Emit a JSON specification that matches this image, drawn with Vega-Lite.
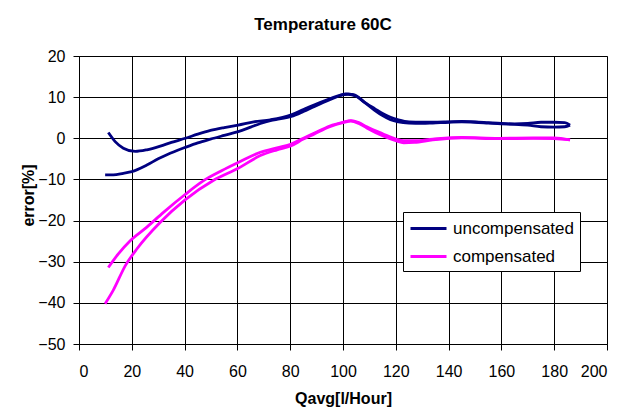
{
  "$schema": "https://vega.github.io/schema/vega-lite/v6.json",
  "width": 528,
  "height": 288,
  "autosize": {"type": "none"},
  "padding": {"left": 79, "top": 56, "right": 14, "bottom": 64},
  "background": "white",
  "title": {
    "text": "Temperature 60C",
    "font": "Liberation Sans",
    "fontSize": 17,
    "fontWeight": "bold",
    "color": "black",
    "anchor": "middle",
    "frame": "group",
    "baseline": "alphabetic",
    "offset": 1,
    "dx": -20
  },
  "data": {
    "values": [
      {"q": 11.1, "err": 1.4, "series": "uncompensated", "branch": "ua"},
      {"q": 13.7, "err": -0.8, "series": "uncompensated", "branch": "ua"},
      {"q": 16.8, "err": -2.4, "series": "uncompensated", "branch": "ua"},
      {"q": 21.3, "err": -3.2, "series": "uncompensated", "branch": "ua"},
      {"q": 25.7, "err": -2.8, "series": "uncompensated", "branch": "ua"},
      {"q": 30.8, "err": -1.9, "series": "uncompensated", "branch": "ua"},
      {"q": 35, "err": -1.0, "series": "uncompensated", "branch": "ua"},
      {"q": 40.3, "err": 0, "series": "uncompensated", "branch": "ua"},
      {"q": 45, "err": 1.0, "series": "uncompensated", "branch": "ua"},
      {"q": 49.8, "err": 1.9, "series": "uncompensated", "branch": "ua"},
      {"q": 55, "err": 2.6, "series": "uncompensated", "branch": "ua"},
      {"q": 60.3, "err": 3.2, "series": "uncompensated", "branch": "ua"},
      {"q": 66.2, "err": 4.0, "series": "uncompensated", "branch": "ua"},
      {"q": 72.5, "err": 4.5, "series": "uncompensated", "branch": "ua"},
      {"q": 80.4, "err": 5.7, "series": "uncompensated", "branch": "ua"},
      {"q": 85, "err": 7.0, "series": "uncompensated", "branch": "ua"},
      {"q": 89, "err": 8.1, "series": "uncompensated", "branch": "ua"},
      {"q": 95, "err": 9.6, "series": "uncompensated", "branch": "ua"},
      {"q": 99, "err": 10.5, "series": "uncompensated", "branch": "ua"},
      {"q": 102, "err": 10.7, "series": "uncompensated", "branch": "ua"},
      {"q": 105, "err": 10.2, "series": "uncompensated", "branch": "ua"},
      {"q": 108.8, "err": 8.5, "series": "uncompensated", "branch": "ua"},
      {"q": 112, "err": 7.2, "series": "uncompensated", "branch": "ua"},
      {"q": 115, "err": 6.0, "series": "uncompensated", "branch": "ua"},
      {"q": 118, "err": 5.1, "series": "uncompensated", "branch": "ua"},
      {"q": 121, "err": 4.5, "series": "uncompensated", "branch": "ua"},
      {"q": 125, "err": 4.0, "series": "uncompensated", "branch": "ua"},
      {"q": 130, "err": 3.9, "series": "uncompensated", "branch": "ua"},
      {"q": 134, "err": 3.9, "series": "uncompensated", "branch": "ua"},
      {"q": 140, "err": 4.0, "series": "uncompensated", "branch": "ua"},
      {"q": 145, "err": 4.1, "series": "uncompensated", "branch": "ua"},
      {"q": 150, "err": 4.0, "series": "uncompensated", "branch": "ua"},
      {"q": 155, "err": 3.8, "series": "uncompensated", "branch": "ua"},
      {"q": 160, "err": 3.6, "series": "uncompensated", "branch": "ua"},
      {"q": 165, "err": 3.5, "series": "uncompensated", "branch": "ua"},
      {"q": 170, "err": 3.6, "series": "uncompensated", "branch": "ua"},
      {"q": 175, "err": 3.9, "series": "uncompensated", "branch": "ua"},
      {"q": 180, "err": 3.9, "series": "uncompensated", "branch": "ua"},
      {"q": 184, "err": 3.8, "series": "uncompensated", "branch": "ua"},
      {"q": 186, "err": 3.2, "series": "uncompensated", "branch": "ua"},
      {"q": 9.9, "err": -8.9, "series": "uncompensated", "branch": "ub"},
      {"q": 13, "err": -8.9, "series": "uncompensated", "branch": "ub"},
      {"q": 16.8, "err": -8.5, "series": "uncompensated", "branch": "ub"},
      {"q": 20, "err": -8.1, "series": "uncompensated", "branch": "ub"},
      {"q": 25.7, "err": -6.5, "series": "uncompensated", "branch": "ub"},
      {"q": 30, "err": -5.0, "series": "uncompensated", "branch": "ub"},
      {"q": 33.3, "err": -4.0, "series": "uncompensated", "branch": "ub"},
      {"q": 40.3, "err": -2.2, "series": "uncompensated", "branch": "ub"},
      {"q": 45, "err": -1.1, "series": "uncompensated", "branch": "ub"},
      {"q": 49.8, "err": -0.2, "series": "uncompensated", "branch": "ub"},
      {"q": 55, "err": 0.7, "series": "uncompensated", "branch": "ub"},
      {"q": 60.3, "err": 1.6, "series": "uncompensated", "branch": "ub"},
      {"q": 65, "err": 2.7, "series": "uncompensated", "branch": "ub"},
      {"q": 68.7, "err": 3.6, "series": "uncompensated", "branch": "ub"},
      {"q": 72.5, "err": 4.3, "series": "uncompensated", "branch": "ub"},
      {"q": 76, "err": 4.7, "series": "uncompensated", "branch": "ub"},
      {"q": 80.4, "err": 5.3, "series": "uncompensated", "branch": "ub"},
      {"q": 85, "err": 6.5, "series": "uncompensated", "branch": "ub"},
      {"q": 89, "err": 7.7, "series": "uncompensated", "branch": "ub"},
      {"q": 95, "err": 9.4, "series": "uncompensated", "branch": "ub"},
      {"q": 99, "err": 10.4, "series": "uncompensated", "branch": "ub"},
      {"q": 101, "err": 10.8, "series": "uncompensated", "branch": "ub"},
      {"q": 104, "err": 10.6, "series": "uncompensated", "branch": "ub"},
      {"q": 108, "err": 8.8, "series": "uncompensated", "branch": "ub"},
      {"q": 112, "err": 6.8, "series": "uncompensated", "branch": "ub"},
      {"q": 115, "err": 5.5, "series": "uncompensated", "branch": "ub"},
      {"q": 118, "err": 4.5, "series": "uncompensated", "branch": "ub"},
      {"q": 121, "err": 4.0, "series": "uncompensated", "branch": "ub"},
      {"q": 125, "err": 3.7, "series": "uncompensated", "branch": "ub"},
      {"q": 130, "err": 3.6, "series": "uncompensated", "branch": "ub"},
      {"q": 134, "err": 3.7, "series": "uncompensated", "branch": "ub"},
      {"q": 140, "err": 3.9, "series": "uncompensated", "branch": "ub"},
      {"q": 145, "err": 4.0, "series": "uncompensated", "branch": "ub"},
      {"q": 150, "err": 3.9, "series": "uncompensated", "branch": "ub"},
      {"q": 155, "err": 3.7, "series": "uncompensated", "branch": "ub"},
      {"q": 160, "err": 3.5, "series": "uncompensated", "branch": "ub"},
      {"q": 165, "err": 3.4, "series": "uncompensated", "branch": "ub"},
      {"q": 170, "err": 3.2, "series": "uncompensated", "branch": "ub"},
      {"q": 175, "err": 2.8, "series": "uncompensated", "branch": "ub"},
      {"q": 180, "err": 2.7, "series": "uncompensated", "branch": "ub"},
      {"q": 184, "err": 2.8, "series": "uncompensated", "branch": "ub"},
      {"q": 186, "err": 3.2, "series": "uncompensated", "branch": "ub"},
      {"q": 11.1, "err": -31.4, "series": "compensated", "branch": "ca"},
      {"q": 14.9, "err": -28.1, "series": "compensated", "branch": "ca"},
      {"q": 19.4, "err": -24.9, "series": "compensated", "branch": "ca"},
      {"q": 25.7, "err": -21.6, "series": "compensated", "branch": "ca"},
      {"q": 32, "err": -18.0, "series": "compensated", "branch": "ca"},
      {"q": 40.3, "err": -13.6, "series": "compensated", "branch": "ca"},
      {"q": 47.2, "err": -10.3, "series": "compensated", "branch": "ca"},
      {"q": 54, "err": -7.9, "series": "compensated", "branch": "ca"},
      {"q": 60.3, "err": -5.9, "series": "compensated", "branch": "ca"},
      {"q": 68.7, "err": -3.4, "series": "compensated", "branch": "ca"},
      {"q": 75, "err": -2.3, "series": "compensated", "branch": "ca"},
      {"q": 80.4, "err": -1.4, "series": "compensated", "branch": "ca"},
      {"q": 85, "err": 0, "series": "compensated", "branch": "ca"},
      {"q": 89, "err": 1.2, "series": "compensated", "branch": "ca"},
      {"q": 95, "err": 3.0, "series": "compensated", "branch": "ca"},
      {"q": 100, "err": 3.9, "series": "compensated", "branch": "ca"},
      {"q": 103, "err": 4.3, "series": "compensated", "branch": "ca"},
      {"q": 106, "err": 3.8, "series": "compensated", "branch": "ca"},
      {"q": 109, "err": 2.8, "series": "compensated", "branch": "ca"},
      {"q": 115, "err": 1.1, "series": "compensated", "branch": "ca"},
      {"q": 120, "err": -0.2, "series": "compensated", "branch": "ca"},
      {"q": 123, "err": -0.6, "series": "compensated", "branch": "ca"},
      {"q": 127, "err": -0.6, "series": "compensated", "branch": "ca"},
      {"q": 134, "err": -0.2, "series": "compensated", "branch": "ca"},
      {"q": 145, "err": 0.2, "series": "compensated", "branch": "ca"},
      {"q": 159, "err": 0, "series": "compensated", "branch": "ca"},
      {"q": 172, "err": 0.1, "series": "compensated", "branch": "ca"},
      {"q": 180, "err": 0.1, "series": "compensated", "branch": "ca"},
      {"q": 186, "err": -0.4, "series": "compensated", "branch": "ca"},
      {"q": 9.9, "err": -40.2, "series": "compensated", "branch": "cb"},
      {"q": 13, "err": -36.9, "series": "compensated", "branch": "cb"},
      {"q": 17.5, "err": -31.0, "series": "compensated", "branch": "cb"},
      {"q": 21.9, "err": -26.9, "series": "compensated", "branch": "cb"},
      {"q": 30.8, "err": -20.4, "series": "compensated", "branch": "cb"},
      {"q": 40.3, "err": -14.9, "series": "compensated", "branch": "cb"},
      {"q": 51, "err": -10.2, "series": "compensated", "branch": "cb"},
      {"q": 60.3, "err": -7.3, "series": "compensated", "branch": "cb"},
      {"q": 68.7, "err": -4.2, "series": "compensated", "branch": "cb"},
      {"q": 75, "err": -2.8, "series": "compensated", "branch": "cb"},
      {"q": 80.4, "err": -1.8, "series": "compensated", "branch": "cb"},
      {"q": 85, "err": -0.2, "series": "compensated", "branch": "cb"},
      {"q": 89, "err": 1.0, "series": "compensated", "branch": "cb"},
      {"q": 95, "err": 2.8, "series": "compensated", "branch": "cb"},
      {"q": 100, "err": 3.8, "series": "compensated", "branch": "cb"},
      {"q": 103, "err": 4.2, "series": "compensated", "branch": "cb"},
      {"q": 106, "err": 3.6, "series": "compensated", "branch": "cb"},
      {"q": 109, "err": 2.5, "series": "compensated", "branch": "cb"},
      {"q": 115, "err": 0.6, "series": "compensated", "branch": "cb"},
      {"q": 120, "err": -0.6, "series": "compensated", "branch": "cb"},
      {"q": 123, "err": -1.1, "series": "compensated", "branch": "cb"},
      {"q": 127, "err": -1.0, "series": "compensated", "branch": "cb"},
      {"q": 134, "err": -0.4, "series": "compensated", "branch": "cb"},
      {"q": 145, "err": 0.1, "series": "compensated", "branch": "cb"},
      {"q": 159, "err": -0.1, "series": "compensated", "branch": "cb"},
      {"q": 172, "err": 0, "series": "compensated", "branch": "cb"},
      {"q": 180, "err": -0.1, "series": "compensated", "branch": "cb"},
      {"q": 186, "err": -0.4, "series": "compensated", "branch": "cb"}
    ]
  },
  "mark": {"type": "line", "strokeWidth": 2.8, "interpolate": "monotone"},
  "encoding": {
    "x": {
      "field": "q",
      "type": "quantitative",
      "scale": {"domain": [0, 200], "nice": false},
      "axis": {
        "values": [0, 20, 40, 60, 80, 100, 120, 140, 160, 180, 200],
        "title": "Qavg[l/Hour]",
        "titleY": 59,
        "titleX": 264,
        "titleBaseline": "alphabetic",
        "labelPadding": 13
      }
    },
    "y": {
      "field": "err",
      "type": "quantitative",
      "scale": {"domain": [-50, 20], "nice": false},
      "axis": {
        "values": [-50, -40, -30, -20, -10, 0, 10, 20],
        "title": "error[%]",
        "titleX": -51,
        "titleY": 139,
        "titleBaseline": "middle",
        "labelPadding": 8
      }
    },
    "color": {
      "field": "series",
      "type": "nominal",
      "scale": {"domain": ["uncompensated", "compensated"], "range": ["#000080", "#FF00FF"]},
      "legend": {
        "title": null,
        "orient": "none",
        "legendX": 324,
        "legendY": 156,
        "fillColor": "white",
        "strokeColor": "black",
        "padding": 6,
        "symbolType": "M-1,0H3",
        "symbolSize": 324,
        "symbolStrokeWidth": 3,
        "labelFontSize": 17,
        "labelFont": "Liberation Sans",
        "labelColor": "black",
        "labelOffset": 23,
        "rowPadding": 9
      }
    },
    "detail": {"field": "branch"},
    "order": {"field": "q", "type": "quantitative"}
  },
  "config": {
    "view": {"stroke": "#808080", "strokeWidth": 1},
    "axis": {
      "labelFont": "Liberation Sans",
      "labelFontSize": 16,
      "labelColor": "black",
      "titleFont": "Liberation Sans",
      "titleFontSize": 16,
      "titleFontWeight": "bold",
      "titleColor": "black",
      "gridColor": "black",
      "gridOpacity": 1,
      "gridWidth": 1,
      "domainColor": "black",
      "tickColor": "black",
      "tickSize": 6
    }
  }
}
